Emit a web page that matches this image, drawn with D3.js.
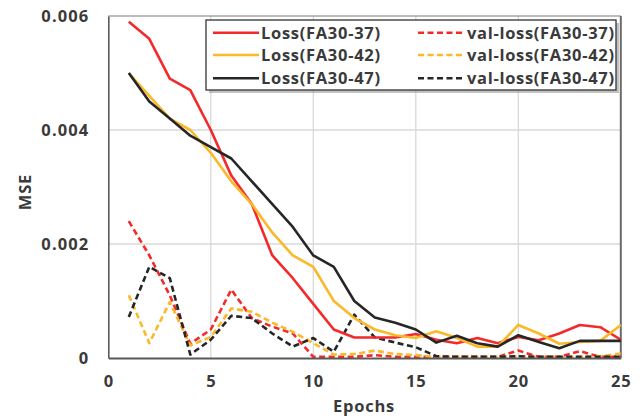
<!DOCTYPE html>
<html><head><meta charset="utf-8">
<script src="https://cdn.jsdelivr.net/npm/d3@7"></script>
<style>
html,body{margin:0;padding:0;background:#fff;}
svg{display:block;}
text{font-family:"Open Sans",sans-serif;font-weight:700;fill:#3a3a3a;}
</style></head>
<body><svg id="chart" width="644" height="419"></svg>
<script>
const epochs = d3.range(1, 26);
const lossFA37 = [0.0059,0.0056,0.0049,0.0047,0.0040,0.0032,0.0027,0.0018,0.0014,0.00095,0.0005,0.00036,0.00036,0.00036,0.00042,0.00032,0.00026,0.00035,0.00026,0.00037,0.00031,0.00043,0.00058,0.00054,0.00032];
const lossFA42 = [0.0050,0.0046,0.0042,0.0040,0.0036,0.0031,0.0027,0.0022,0.0018,0.0016,0.0010,0.0007,0.0005,0.0004,0.00035,0.00047,0.00035,0.0002,0.0002,0.00058,0.00043,0.00025,0.00028,0.0003,0.00058];
const lossFA47 = [0.0050,0.0045,0.0042,0.0039,0.0037,0.0035,0.0031,0.0027,0.0023,0.0018,0.0016,0.0010,0.00071,0.00062,0.0005,0.00027,0.00039,0.00026,0.0002,0.0004,0.00028,0.00017,0.0003,0.0003,0.0003];
const valFA37 = [0.0024,0.0018,0.0011,0.00025,0.0005,0.0012,0.0007,0.00055,0.00043,0.00002,0.00002,0.00002,0.00005,0.00002,0.00002,0.00002,0.00002,0.00002,0.00002,0.00013,0.00002,0.00002,0.00012,0.00002,0.00002];
const valFA42 = [0.0011,0.00026,0.00098,0.00022,0.00037,0.00087,0.00081,0.00062,0.00046,0.00026,0.00006,0.00007,0.00013,0.00007,0.00005,0.00002,0.00002,0.00002,0.00002,0.00003,0.00002,0.00002,0.00002,0.00003,0.00008];
const valFA47 = [0.00072,0.0016,0.0014,0.00006,0.00032,0.00074,0.0007,0.00043,0.0002,0.00035,0.00011,0.00076,0.00036,0.00027,0.00019,0.00003,0.00002,0.00002,0.00002,0.00003,0.00002,0.00002,0.00002,0.00002,0.00002];
const xTicks = [0,5,10,15,20,25];
const yTicks = [0,0.002,0.004,0.006];
const yTickLabels = ["0","0.002","0.004","0.006"];
const seriesNames = ["Loss(FA30-37)","Loss(FA30-42)","Loss(FA30-47)","val-loss(FA30-37)","val-loss(FA30-42)","val-loss(FA30-47)"];

const RED = "#f42a2a", YEL = "#fbb829", BLK = "#262626";
const series = [
  {name: seriesNames[0], values: lossFA37, color: RED, dash: null},
  {name: seriesNames[1], values: lossFA42, color: YEL, dash: null},
  {name: seriesNames[2], values: lossFA47, color: BLK, dash: null},
  {name: seriesNames[3], values: valFA37, color: RED, dash: "6,3.5"},
  {name: seriesNames[4], values: valFA42, color: YEL, dash: "6,3.5"},
  {name: seriesNames[5], values: valFA47, color: BLK, dash: "6,3.5"}
];

const svg = d3.select("#chart");
const L = 108.3, R = 620.8, T = 16, B = 358;
const x = d3.scaleLinear().domain([0,25]).range([L,R]);
const y = d3.scaleLinear().domain([0,0.006]).range([B,T]);

// gridlines
svg.append("g").selectAll("line.v").data(xTicks.filter(d=>d>0&&d<25)).join("line")
  .attr("x1",d=>x(d)).attr("x2",d=>x(d)).attr("y1",T).attr("y2",B)
  .attr("stroke","#d9d9d9").attr("stroke-width",1.3);
svg.append("g").selectAll("line.h").data(yTicks.filter(d=>d>0&&d<0.006)).join("line")
  .attr("x1",L).attr("x2",R).attr("y1",d=>y(d)).attr("y2",d=>y(d))
  .attr("stroke","#d9d9d9").attr("stroke-width",1.3);

// plot border
svg.append("line").attr("x1",L).attr("x2",R).attr("y1",T).attr("y2",T).attr("stroke","#7a7a7a").attr("stroke-width",1.2);
svg.append("line").attr("x1",R).attr("x2",R).attr("y1",T).attr("y2",B).attr("stroke","#6a6a6a").attr("stroke-width",2);

// lines
const line = d3.line().x((d,i)=>x(epochs[i])).y(d=>y(d));
const order = [3,4,5,0,1,2];
order.forEach(k=>{
  const s = series[k];
  svg.append("path").datum(s.values).attr("d",line)
    .attr("fill","none").attr("stroke",s.color).attr("stroke-width",2.6)
    .attr("stroke-linejoin","round")
    .attr("stroke-dasharray",s.dash);
});

const tickStyle = sel => sel.style("font-size","16.5px").style("font-family","'Open Sans',sans-serif")
  .style("font-weight","700").attr("fill","#3a3a3a");

// axes
const xAxis = svg.append("g").attr("transform",`translate(0,${B})`)
  .call(d3.axisBottom(x).tickValues(xTicks).tickSize(0).tickPadding(17).tickFormat(d3.format("d")));
xAxis.select(".domain").attr("stroke","#595959").attr("stroke-width",2.2);
xAxis.selectAll("text").call(tickStyle).style("letter-spacing","0.8px");

const yAxis = svg.append("g").attr("transform",`translate(${L},0)`)
  .call(d3.axisLeft(y).tickValues(yTicks).tickSize(0).tickPadding(19).tickFormat((d,i)=>yTickLabels[i]));
yAxis.select(".domain").attr("stroke","#595959").attr("stroke-width",1.6);
yAxis.selectAll("text").call(tickStyle).style("letter-spacing","1.1px");

// axis titles
svg.append("text").attr("x",364).attr("y",412).attr("text-anchor","middle").style("font-size","16.5px").style("letter-spacing","0.8px").text("Epochs");
svg.append("text").attr("transform","translate(31,192) rotate(-90)").attr("text-anchor","middle").style("font-size","16.5px").style("letter-spacing","0.8px").text("MSE");

// legend
const lg = svg.append("g");
lg.append("rect").attr("x",209).attr("y",23).attr("width",410).attr("height",70).attr("fill","#9a9a9a").attr("opacity",0.6);
lg.append("rect").attr("x",206).attr("y",20).attr("width",410).attr("height",70).attr("fill","#fff").attr("stroke","#333").attr("stroke-width",1.3);
const rowsY = [32.7,55,78.3];
series.forEach((s,k)=>{
  const col = k<3?0:1, row = k%3;
  const x0 = col===0?213:418, x1 = col===0?259:465;
  lg.append("line").attr("x1",x0).attr("x2",x1).attr("y1",rowsY[row]).attr("y2",rowsY[row])
    .attr("stroke",s.color).attr("stroke-width",2.6).attr("stroke-dasharray",s.dash);
  lg.append("text").attr("x",x1+2).attr("y",rowsY[row]).attr("dy","0.36em")
    .attr("textLength", col===0?119:147).attr("lengthAdjust","spacing")
    .style("font-size","16.5px").text(s.name);
});
</script></body></html>
